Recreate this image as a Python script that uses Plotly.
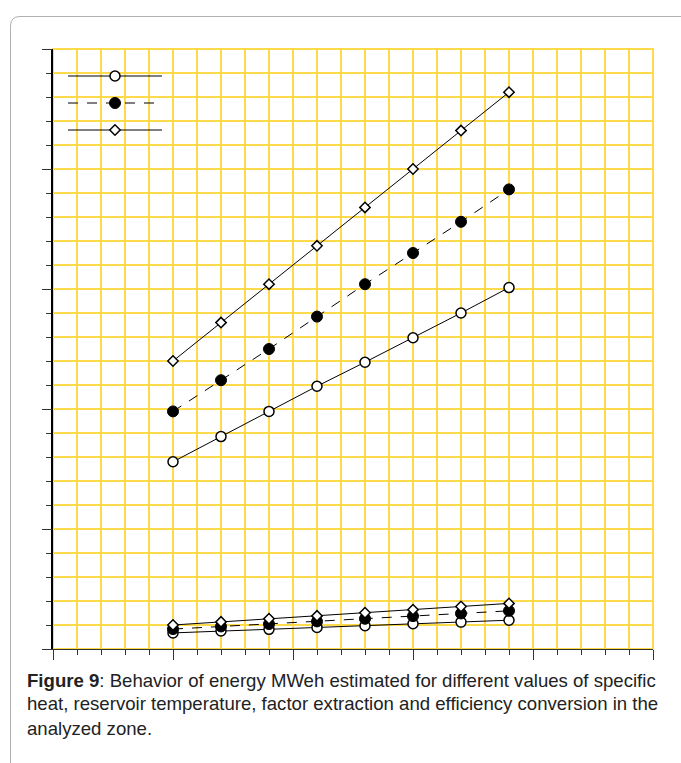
import plotly.graph_objects as go

# ---------------- data (grid units) ----------------
x_vals = [5, 7, 9, 11, 13, 15, 17, 19]

upper_open    = [7.80, 8.85, 9.90, 10.95, 11.95, 12.97, 14.00, 15.06]
upper_filled  = [9.90, 11.20, 12.50, 13.85, 15.20, 16.50, 17.80, 19.15]
upper_diamond = [12.00, 13.60, 15.20, 16.80, 18.40, 20.00, 21.60, 23.20]

lower_open    = [0.67, 0.75, 0.82, 0.90, 0.97, 1.05, 1.12, 1.20]
lower_filled  = [0.83, 0.94, 1.04, 1.15, 1.26, 1.37, 1.48, 1.59]
lower_diamond = [1.00, 1.13, 1.26, 1.38, 1.51, 1.64, 1.77, 1.90]

caption_lines = [
    "<b>Figure 9</b>: Behavior of energy MWeh estimated for different values of specific",
    "heat, reservoir temperature, factor extraction and efficiency conversion in the",
    "analyzed zone.",
]

# ---------------- layout geometry (pixels) ----------------
W, H = 681, 763
ML, MR, MT, MB = 53, 28, 49, 114          # plot area 600 x 600 px
PX0, PX1 = ML, W - MR
PY0, PY1 = MT, H - MB
R0, R1 = 0, 25


def px_to_x(px):
    return R0 + (px - PX0) / (PX1 - PX0) * (R1 - R0)


def py_to_y(py):
    return R0 + (PY1 - py) / (PY1 - PY0) * (R1 - R0)


def px_paper(px):
    return (px - PX0) / (PX1 - PX0)


def py_paper(py):
    return (PY1 - py) / (PY1 - PY0)


GRID = "#FFDA4A"
INK = "#000000"
TICK = "#333333"

styles = {
    "open": dict(symbol="circle", size=10, color="white", line=dict(color=INK, width=1.5)),
    "filled": dict(symbol="circle", size=11, color=INK, line=dict(color=INK, width=1)),
    "diamond": dict(symbol="diamond", size=8, color="white", line=dict(color=INK, width=1.5)),
}
dashes = {"open": "solid", "filled": "10px,9px", "diamond": "solid"}

fig = go.Figure()

# invisible trace to activate the overlay tick axes (major ticks)
fig.add_trace(go.Scatter(x=[0], y=[0], xaxis="x2", yaxis="y2", mode="markers",
                         marker=dict(opacity=0), showlegend=False, hoverinfo="skip"))

series = [
    ("open", upper_open), ("filled", upper_filled), ("diamond", upper_diamond),
    ("open", lower_open), ("filled", lower_filled), ("diamond", lower_diamond),
]
for key, ys in series:
    fig.add_trace(go.Scatter(
        x=x_vals, y=ys, mode="lines+markers",
        line=dict(color=INK, width=1, dash=dashes[key]),
        marker=styles[key], showlegend=False, cliponaxis=False,
    ))

# legend keys (drawn inside the plot, top-left, no text)
legend_rows = [("open", 76), ("filled", 103), ("diamond", 130)]
for key, py in legend_rows:
    yk = py_to_y(py)
    fig.add_trace(go.Scatter(
        x=[px_to_x(68), px_to_x(162)], y=[yk, yk], mode="lines",
        line=dict(color=INK, width=1, dash=dashes[key]),
        showlegend=False, hoverinfo="skip",
    ))
    fig.add_trace(go.Scatter(
        x=[px_to_x(115)], y=[yk], mode="markers", marker=styles[key],
        showlegend=False, hoverinfo="skip",
    ))

# main axes: grid every cell + short ticks
minor_axis = dict(
    range=[R0, R1], tick0=0, dtick=1, showticklabels=False,
    ticks="outside", ticklen=5, tickwidth=1, tickcolor=TICK,
    showgrid=True, gridcolor=GRID, gridwidth=2, zeroline=False, fixedrange=True,
)
# overlay axes: long ticks every 5 cells
major_axis = dict(
    range=[R0, R1], tick0=0, dtick=5, showticklabels=False,
    ticks="outside", ticklen=10, tickwidth=1, tickcolor=TICK,
    showgrid=False, zeroline=False, showline=False, fixedrange=True,
)

fig.update_layout(
    xaxis=dict(**minor_axis, showline=True, linecolor=TICK, linewidth=1),
    yaxis=dict(**minor_axis, showline=True, linecolor=INK, linewidth=1.5),
    xaxis2=dict(**major_axis, overlaying="x", anchor="y2", side="bottom"),
    yaxis2=dict(**major_axis, overlaying="y", anchor="x2", side="left"),
)

shapes = [
    # yellow top/right edges of the grid
    dict(type="rect", xref="paper", yref="paper", x0=0, x1=1, y0=0, y1=1,
         line=dict(color=GRID, width=2), layer="below"),
    # outer rounded frame
    dict(type="path", xref="paper", yref="paper",
         path=(f"M {px_paper(10.5)} {py_paper(H + 10)} L {px_paper(10.5)} {py_paper(26)} "
               f"Q {px_paper(10.5)} {py_paper(16.5)} {px_paper(20)} {py_paper(16.5)} "
               f"L {px_paper(W + 10)} {py_paper(16.5)}"),
         line=dict(color="#B0B0B0", width=1)),
]

annotations = []
for i, txt in enumerate(caption_lines):
    annotations.append(dict(
        text=txt, xref="paper", yref="paper", x=px_paper(25), y=py_paper(680 + 24 * i),
        xanchor="left", yanchor="middle", showarrow=False, align="left",
        font=dict(family="Liberation Sans, Arial, sans-serif", size=18.6, color="#222222"),
    ))

fig.update_layout(
    width=W, height=H, margin=dict(l=ML, r=MR, t=MT, b=MB, pad=0),
    paper_bgcolor="white", plot_bgcolor="white",
    shapes=shapes, annotations=annotations, showlegend=False,
)

fig.write_html("out.html", include_plotlyjs=True, full_html=True,
               config={"displayModeBar": False})
